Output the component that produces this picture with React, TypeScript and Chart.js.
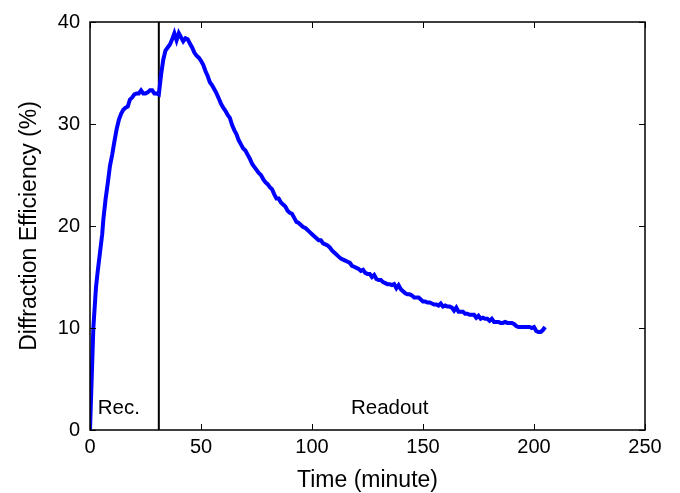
import React, { useEffect, useRef } from "react";
import { Chart, registerables } from "chart.js";

Chart.register(...registerables);

const recTime = [0, 1.5, 2.7, 3.5, 4.5, 5.5, 6, 7, 8, 9, 10, 11, 12, 13, 14, 15, 16, 17, 18, 19, 20, 21, 22, 23, 24, 25, 26, 27, 28, 29, 30, 31];
const recEff = [0, 10.0, 14.0, 15.6, 17.4, 19.2, 20.6, 22.6, 24.2, 25.9, 27.0, 28.3, 29.5, 30.4, 31.0, 31.4, 31.6, 31.7, 32.4, 32.6, 32.9, 33.0, 33.0, 33.3, 33.0, 33.0, 33.1, 33.3, 33.3, 33.0, 33.0, 32.9];

const readTime = [32, 33, 34, 35, 36, 37, 38, 39, 40, 41, 42, 43, 44, 45, 46, 47, 48, 49, 50, 51, 52, 53, 54, 55, 56, 57, 58, 59, 60, 61, 62, 63, 64, 65, 66, 67, 68, 69, 70, 71, 72, 73, 74, 75, 76, 77, 78, 79, 80, 81, 82, 83, 84, 85, 86, 87, 88, 89, 90, 91, 92, 93, 94, 95, 96, 97, 98, 99, 100, 101, 102, 103, 104, 105, 106, 107, 108, 109, 110, 111, 112, 113, 114, 115, 116, 117, 118, 119, 120, 121, 122, 123, 124, 125, 126, 127, 128, 129, 130, 131, 132, 133, 134, 135, 136, 137, 138, 139, 140, 141, 142, 143, 144, 145, 146, 147, 148, 149, 150, 151, 152, 153, 154, 155, 156, 157, 158, 159, 160, 161, 162, 163, 164, 165, 166, 167, 168, 169, 170, 171, 172, 173, 174, 175, 176, 177, 178, 179, 180, 181, 182, 183, 184, 185, 186, 187, 188, 189, 190, 191, 192, 193, 194, 195, 196, 197, 198, 199, 200, 201, 202, 203, 204, 205];
const readEff = [34.8, 36.3, 37.2, 37.5, 37.8, 38.3, 38.9, 38.2, 38.9, 38.5, 38.1, 38.4, 38.3, 37.9, 37.5, 37.0, 36.7, 36.5, 36.2, 35.8, 35.2, 34.7, 34.1, 33.8, 33.4, 33.0, 32.5, 32.0, 31.6, 31.3, 30.9, 30.6, 29.9, 29.4, 29.0, 28.4, 28.0, 27.6, 27.4, 27.0, 26.6, 26.1, 25.8, 25.5, 25.2, 25.0, 24.6, 24.3, 24.1, 23.8, 23.6, 23.1, 22.7, 22.7, 22.3, 22.1, 21.9, 21.5, 21.3, 21.2, 20.8, 20.4, 20.3, 20.1, 19.9, 19.8, 19.6, 19.4, 19.2, 19.0, 18.8, 18.6, 18.6, 18.3, 18.2, 18.1, 17.9, 17.6, 17.4, 17.2, 17.0, 16.8, 16.7, 16.6, 16.5, 16.4, 16.1, 16.0, 15.9, 15.8, 15.6, 15.7, 15.4, 15.3, 15.3, 15.0, 15.2, 14.8, 14.7, 14.7, 14.5, 14.4, 14.3, 14.3, 14.2, 14.3, 13.9, 14.2, 13.8, 13.6, 13.4, 13.3, 13.3, 13.2, 13.0, 13.0, 13.0, 12.8, 12.6, 12.6, 12.5, 12.5, 12.4, 12.3, 12.3, 12.2, 12.4, 12.1, 12.2, 12.1, 12.1, 12.0, 11.7, 12.0, 11.6, 11.6, 11.6, 11.4, 11.4, 11.3, 11.3, 11.3, 11.0, 11.2, 10.9, 11.0, 10.9, 10.9, 10.7, 10.9, 10.6, 10.6, 10.6, 10.5, 10.5, 10.6, 10.5, 10.5, 10.5, 10.4, 10.2, 10.1, 10.1, 10.1, 10.1, 10.1, 10.1, 10.0, 10.1, 9.7, 9.6, 9.6, 9.8, 10.1];

const recordEnd = 31;
const xTicks = [0, 50, 100, 150, 200, 250];
const yTicks = [0, 10, 20, 30, 40];
const annotations = [
  { text: "Rec.", x: 13, y: 2.1 },
  { text: "Readout", x: 135, y: 2.1 },
];

const FONT = "'Liberation Sans', Arial, Helvetica, sans-serif";

const boxPlugin = {
  id: "boxPlugin",
  afterDatasetsDraw(chart: any) {
    const { ctx, chartArea: a, scales } = chart;
    const xs = scales.x;
    const ys = scales.y;
    ctx.save();
    ctx.strokeStyle = "#000";
    ctx.lineWidth = 1.5;
    ctx.strokeRect(a.left, a.top, a.right - a.left, a.bottom - a.top);
    ctx.lineWidth = 1;
    const tl = 6;
    ctx.beginPath();
    xTicks.forEach((v) => {
      const px = Math.round(xs.getPixelForValue(v)) + 0.5;
      ctx.moveTo(px, a.bottom);
      ctx.lineTo(px, a.bottom - tl);
      ctx.moveTo(px, a.top);
      ctx.lineTo(px, a.top + tl);
    });
    yTicks.forEach((v) => {
      const py = Math.round(ys.getPixelForValue(v)) + 0.5;
      ctx.moveTo(a.left, py);
      ctx.lineTo(a.left + tl, py);
      ctx.moveTo(a.right, py);
      ctx.lineTo(a.right - tl, py);
    });
    ctx.stroke();
    ctx.fillStyle = "#000";
    ctx.font = "20.5px " + FONT;
    ctx.textAlign = "center";
    ctx.textBaseline = "middle";
    annotations.forEach((an) => {
      ctx.fillText(an.text, xs.getPixelForValue(an.x), ys.getPixelForValue(an.y));
    });
    ctx.restore();
  },
};

export default function App() {
  const ref = useRef<HTMLCanvasElement>(null);
  useEffect(() => {
    const canvas = ref.current!;
    const recPts = recTime.map((t, i) => ({ x: t, y: recEff[i] }));
    const readPts = readTime.map((t, i) => ({ x: t, y: readEff[i] }));
    const chart = new Chart(canvas, {
      type: "line",
      data: {
        datasets: [
          {
            data: [...recPts, ...readPts],
            borderColor: "#0000ff",
            borderWidth: 4,
            pointRadius: 0,
            tension: 0,
            fill: false,
          },
          {
            data: [
              { x: recordEnd, y: 0 },
              { x: recordEnd, y: 40 },
            ],
            borderColor: "#000",
            borderWidth: 2,
            pointRadius: 0,
            fill: false,
          },
        ],
      },
      options: {
        animation: false,
        responsive: false,
        devicePixelRatio: 1,
        layout: { padding: { top: 19, right: 35, left: 0, bottom: 0 } },
        plugins: { legend: { display: false }, tooltip: { enabled: false } },
        scales: {
          x: {
            type: "linear",
            min: 0,
            max: 250,
            grid: { display: false, drawTicks: false },
            border: { display: false },
            afterBuildTicks: (s: any) => {
              s.ticks = xTicks.map((v) => ({ value: v }));
            },
            afterFit: (s: any) => {
              s.height = 63;
            },
            ticks: {
              color: "#000",
              font: { family: FONT, size: 20 },
              padding: 5,
              maxRotation: 0,
            },
            title: {
              display: true,
              text: "Time (minute)",
              color: "#000",
              font: { family: FONT, size: 23, lineHeight: 1 },
              padding: { top: 0, bottom: 0.5 },
            },
          },
          y: {
            type: "linear",
            min: 0,
            max: 40,
            grid: { display: false, drawTicks: false },
            border: { display: false },
            afterBuildTicks: (s: any) => {
              s.ticks = yTicks.map((v) => ({ value: v }));
            },
            afterFit: (s: any) => {
              s.width = 90;
            },
            ticks: {
              color: "#000",
              font: { family: FONT, size: 20 },
              padding: 10,
            },
            title: {
              display: true,
              text: "Diffraction Efficiency (%)",
              color: "#000",
              font: { family: FONT, size: 23, lineHeight: 1 },
              padding: { top: 18.5, bottom: 0 },
            },
          },
        },
      },
      plugins: [boxPlugin],
    });
    return () => chart.destroy();
  }, []);
  return (
    <div style={{ position: "absolute", left: 0, top: 0, width: 680, height: 493, background: "#fff" }}>
      <canvas ref={ref} width={680} height={493} style={{ display: "block" }} />
    </div>
  );
}
